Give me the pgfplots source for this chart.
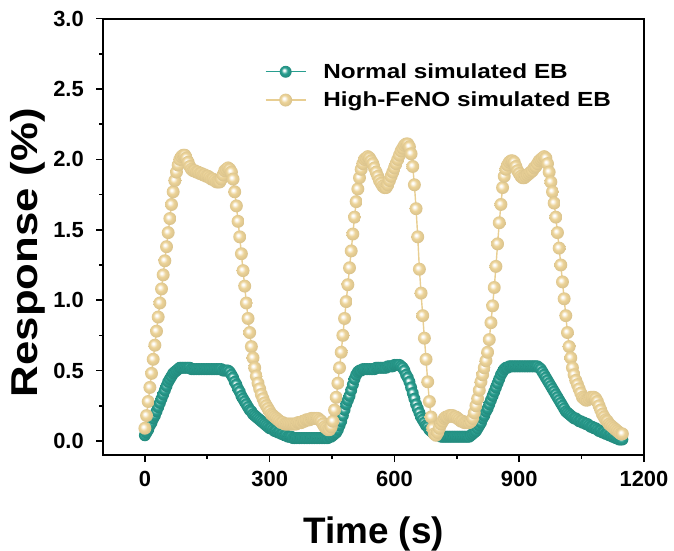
\documentclass[border=0pt]{standalone}
\usepackage{fontspec}
\setmainfont{Liberation Sans}
\usepackage{pgfplots}
\pgfplotsset{compat=1.18}
\usepackage{pgfplotstable}
\definecolor{tealc}{RGB}{40,158,143}
\definecolor{sandc}{RGB}{236,211,152}
\definecolor{sandl}{RGB}{232,206,146}
\pgfdeclareradialshading{shG}{\pgfpoint{-7bp}{7bp}}{color(0bp)=(white);color(3bp)=(white);color(13bp)=(tealc);color(25bp)=(tealc!88!black);color(50bp)=(tealc!88!black)}
\pgfdeclareradialshading{shY}{\pgfpoint{-7bp}{7bp}}{color(0bp)=(white);color(3bp)=(white);color(14bp)=(sandc);color(25bp)=(sandc!93!black);color(50bp)=(sandc!93!black)}
\pgfdeclareplotmark{gball}{\pgfpathcircle{\pgfpointorigin}{\pgfplotmarksize}\pgfshadepath{shG}{0}\pgfusepath{discard}}
\pgfdeclareplotmark{yball}{\pgfpathcircle{\pgfpointorigin}{\pgfplotmarksize}\pgfshadepath{shY}{0}\pgfusepath{discard}}

\pgfplotstableread{
t g y
0 0.04 0.09
4 0.06 0.18
8 0.08 0.28
12 0.11 0.38
16 0.13 0.48
20 0.16 0.58
24 0.18 0.68
28 0.21 0.78
32 0.24 0.88
36 0.27 0.98
40 0.30 1.08
44 0.33 1.18
48 0.36 1.28
52 0.39 1.38
56 0.42 1.48
60 0.44 1.58
64 0.46 1.68
68 0.48 1.77
72 0.49 1.85
76 0.50 1.91
80 0.51 1.96
84 0.52 2.00
88 0.52 2.02
92 0.52 2.03
96 0.52 2.03
100 0.52 2.01
104 0.52 1.98
108 0.52 1.95
112 0.51 1.93
116 0.51 1.92
120 0.51 1.92
124 0.51 1.91
128 0.51 1.91
132 0.51 1.90
136 0.51 1.90
140 0.51 1.89
144 0.51 1.89
148 0.51 1.88
152 0.51 1.88
156 0.51 1.87
160 0.51 1.86
164 0.51 1.86
168 0.51 1.85
172 0.51 1.84
176 0.51 1.84
180 0.51 1.84
184 0.51 1.86
188 0.50 1.89
192 0.50 1.92
196 0.50 1.93
200 0.50 1.94
204 0.49 1.93
208 0.47 1.91
212 0.45 1.86
216 0.42 1.77
220 0.40 1.67
224 0.37 1.56
228 0.35 1.45
232 0.32 1.33
236 0.30 1.21
240 0.28 1.10
244 0.26 0.98
248 0.24 0.87
252 0.22 0.77
256 0.21 0.67
260 0.19 0.59
264 0.18 0.52
268 0.17 0.46
272 0.16 0.41
276 0.15 0.37
280 0.14 0.33
284 0.13 0.30
288 0.12 0.27
292 0.11 0.25
296 0.10 0.23
300 0.09 0.21
304 0.09 0.19
308 0.08 0.18
312 0.07 0.17
316 0.07 0.16
320 0.06 0.15
324 0.06 0.14
328 0.05 0.13
332 0.05 0.13
336 0.04 0.12
340 0.04 0.12
344 0.03 0.12
348 0.03 0.12
352 0.03 0.12
356 0.02 0.12
360 0.02 0.12
364 0.02 0.12
368 0.02 0.13
372 0.02 0.13
376 0.02 0.13
380 0.02 0.14
384 0.02 0.14
388 0.02 0.15
392 0.02 0.15
396 0.02 0.15
400 0.02 0.16
404 0.02 0.16
408 0.02 0.16
412 0.02 0.16
416 0.02 0.16
420 0.02 0.15
424 0.02 0.14
428 0.02 0.12
432 0.02 0.10
436 0.02 0.09
440 0.02 0.08
444 0.03 0.08
448 0.03 0.10
452 0.04 0.14
456 0.05 0.22
460 0.06 0.31
464 0.08 0.41
468 0.11 0.52
472 0.14 0.63
476 0.18 0.75
480 0.22 0.87
484 0.26 0.99
488 0.29 1.11
492 0.32 1.23
496 0.36 1.35
500 0.40 1.47
504 0.44 1.59
508 0.47 1.70
512 0.49 1.79
516 0.50 1.87
520 0.50 1.93
524 0.51 1.97
528 0.51 2.00
532 0.51 2.01
536 0.51 2.02
540 0.51 2.01
544 0.51 1.99
548 0.51 1.97
552 0.51 1.94
556 0.52 1.91
560 0.52 1.88
564 0.52 1.85
568 0.52 1.83
572 0.52 1.81
576 0.52 1.80
580 0.52 1.80
584 0.53 1.82
588 0.53 1.85
592 0.53 1.88
596 0.53 1.91
600 0.54 1.94
604 0.54 1.97
608 0.54 2.00
612 0.54 2.03
616 0.53 2.06
620 0.52 2.08
624 0.50 2.10
628 0.47 2.11
632 0.45 2.11
636 0.42 2.09
640 0.38 2.04
644 0.34 1.95
648 0.30 1.82
652 0.26 1.65
656 0.23 1.45
660 0.20 1.22
664 0.17 1.05
668 0.15 0.89
672 0.13 0.73
676 0.11 0.58
680 0.10 0.42
684 0.08 0.28
688 0.07 0.17
692 0.06 0.09
696 0.05 0.05
700 0.05 0.04
704 0.04 0.06
708 0.04 0.09
712 0.03 0.12
716 0.03 0.14
720 0.03 0.16
724 0.03 0.17
728 0.03 0.17
732 0.03 0.18
736 0.03 0.18
740 0.03 0.18
744 0.03 0.17
748 0.03 0.17
752 0.03 0.16
756 0.03 0.15
760 0.03 0.14
764 0.03 0.14
768 0.03 0.13
772 0.03 0.13
776 0.03 0.13
780 0.03 0.13
784 0.04 0.14
788 0.05 0.16
792 0.06 0.20
796 0.07 0.25
800 0.09 0.30
804 0.11 0.36
808 0.13 0.42
812 0.16 0.47
816 0.18 0.52
820 0.21 0.57
824 0.23 0.63
828 0.26 0.72
832 0.29 0.84
836 0.32 0.96
840 0.35 1.09
844 0.38 1.24
848 0.41 1.40
852 0.44 1.55
856 0.47 1.68
860 0.49 1.80
864 0.51 1.88
868 0.52 1.93
872 0.52 1.96
876 0.53 1.98
880 0.53 1.99
884 0.53 1.99
888 0.53 1.98
892 0.53 1.95
896 0.53 1.92
900 0.53 1.90
904 0.53 1.88
908 0.53 1.87
912 0.53 1.87
916 0.53 1.88
920 0.53 1.89
924 0.53 1.90
928 0.53 1.91
932 0.53 1.92
936 0.53 1.94
940 0.53 1.95
944 0.53 1.97
948 0.52 1.99
952 0.51 2.00
956 0.49 2.01
960 0.47 2.02
964 0.45 2.01
968 0.43 1.97
972 0.41 1.91
976 0.39 1.84
980 0.37 1.77
984 0.35 1.69
988 0.33 1.59
992 0.31 1.48
996 0.29 1.37
1000 0.27 1.25
1004 0.25 1.13
1008 0.23 1.01
1012 0.21 0.89
1016 0.20 0.77
1020 0.19 0.67
1024 0.18 0.59
1028 0.17 0.52
1032 0.16 0.47
1036 0.16 0.43
1040 0.15 0.40
1044 0.14 0.37
1048 0.14 0.34
1052 0.13 0.31
1056 0.13 0.30
1060 0.12 0.29
1064 0.12 0.29
1068 0.11 0.30
1072 0.10 0.31
1076 0.10 0.31
1080 0.09 0.31
1084 0.09 0.30
1088 0.08 0.28
1092 0.07 0.25
1096 0.07 0.22
1100 0.06 0.19
1104 0.06 0.17
1108 0.05 0.15
1112 0.05 0.14
1116 0.04 0.12
1120 0.04 0.11
1124 0.03 0.10
1128 0.03 0.09
1132 0.02 0.08
1136 0.02 0.07
1140 0.01 0.06
1144 0.01 0.05
1148 0.01 0.05
}\datatab

\begin{document}
\begin{tikzpicture}
\begin{axis}[
  name=ax,
  scale only axis,
  width=540.7bp, height=436.3bp,
  xmin=-100, xmax=1200, ymin=-0.1, ymax=3.0,
  xtick={0,300,600,900,1200},
  ytick={0,0.5,1,1.5,2,2.5,3},
  minor xtick={150,450,750,1050},
  minor ytick={0.25,0.75,1.25,1.75,2.25,2.75},
  tick pos=left,
  tick align=outside,
  axis line style={line width=2.2bp},
  major tick style={line width=1.6bp, black},
  minor tick style={line width=1.6bp, black},
  major tick length=7bp,
  minor tick length=4bp,
  /pgf/number format/assume math mode=true,
  ticklabel style={font=\fontsize{22}{26}\selectfont\bfseries},
  xticklabel style={/pgf/number format/1000 sep={}, yshift=-6bp},
  yticklabel style={/pgf/number format/fixed, /pgf/number format/fixed zerofill, /pgf/number format/precision=1, xshift=-9bp},
  xlabel={Time (s)},
  ylabel={\scalebox{1.17}[1]{Response (\%)}},
  every axis x label/.style={at={(rel axis cs:0.5,0)}, anchor=base, yshift=-88bp, font=\fontsize{37}{42}\selectfont\bfseries},
  every axis y label/.style={at={(rel axis cs:0,0.5)}, anchor=center, rotate=90, xshift=-15.7bp, yshift=75bp, font=\fontsize{37.5}{44}\selectfont\bfseries},
  legend style={at={(0.299,0.897)}, anchor=north west, draw=none, fill=none, inner sep=0pt, outer sep=0pt, nodes={inner sep=0pt}, font=\fontsize{20.5}{25}\selectfont\bfseries, row sep=12bp, /tikz/every odd column/.style={column sep=17bp}},
  legend cell align=left,
  legend image code/.code={\draw[mark repeat=2,mark phase=2,#1] plot coordinates {(0bp,0bp) (20bp,0bp) (40bp,0bp)};},
]
\addplot[color=tealc, line width=1.4bp, mark=gball, mark size=6pt] table[x=t, y=g] {\datatab};
\addlegendentry{\scalebox{1.19}[1]{Normal simulated EB}}
\addplot[color=sandl, line width=1.4bp, mark=yball, mark size=6.5pt] table[x=t, y=y] {\datatab};
\addlegendentry{\scalebox{1.19}[1]{High-FeNO simulated EB}}
\end{axis}
\pgfresetboundingbox
\path[use as bounding box] ([xshift=-103.3bp,yshift=-96bp]ax.south west) rectangle ([xshift=30bp,yshift=18.7bp]ax.north east);
\end{tikzpicture}
\end{document}
